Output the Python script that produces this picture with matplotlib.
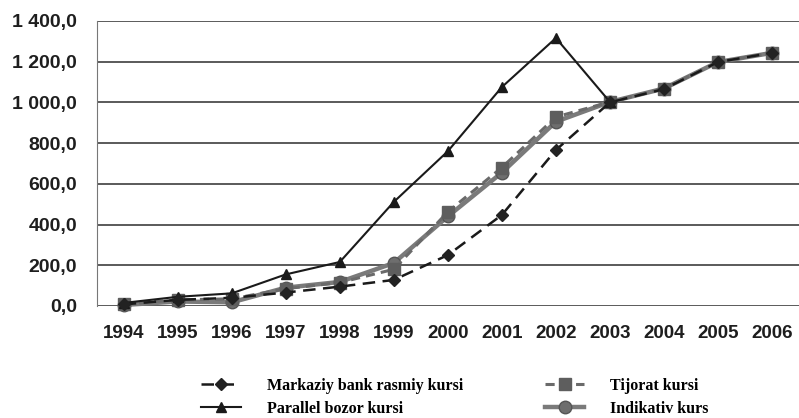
import matplotlib
matplotlib.use('Agg')
import matplotlib.pyplot as plt
import numpy as np

years = ['1994', '1995', '1996', '1997', '1998', '1999', '2000',
         '2001', '2002', '2003', '2004', '2005', '2006']
markaziy = [8, 30, 40, 66, 95, 128, 250, 447, 766, 1000, 1065, 1198, 1243]
parallel = [15, 45, 62, 155, 216, 511, 760, 1075, 1316, 1002]
tijorat = [10, 30, 35, 85, 115, 180, 462, 680, 928, 1002, 1068, 1198, 1243]
indikativ = [5, 22, 18, 90, 118, 211, 440, 655, 905, 1002, 1068, 1198, 1243]
yticks = [0, 200, 400, 600, 800, 1000, 1200, 1400]

def fmt(v):
    s = '{:,.1f}'.format(v)
    return s.replace(',', ' ').replace('.', ',')

fig = plt.figure(figsize=(7.99, 4.18), dpi=100)
ax = fig.add_axes([0.121, 0.268, 0.879, 0.682])

x = np.arange(len(years))
ax.plot(x, indikativ, color='#7a7a7a', lw=3.2, marker='o', ms=9,
        mfc='#6e6e6e', mec='#555555', label='Indikativ kurs', zorder=3, clip_on=False)
ax.plot(x, tijorat, color='#6a6a6a', lw=2.2, ls=(0, (3, 2)), marker='s', ms=8,
        mfc='#5e5e5e', mec='#5e5e5e', label='Tijorat kursi', zorder=4, clip_on=False)
ax.plot(x[:len(parallel)], parallel, color='#1a1a1a', lw=1.5, marker='^', ms=7,
        mfc='#1a1a1a', mec='#1a1a1a', label='Parallel bozor kursi', zorder=5, clip_on=False)
ax.plot(x, markaziy, color='#1a1a1a', lw=1.8, ls=(0, (5, 3)), marker='D', ms=6,
        mfc='#222222', mec='#222222', label='Markaziy bank rasmiy kursi', zorder=6, clip_on=False)

ax.set_xlim(-0.5, len(years) - 0.5)
ax.set_ylim(0, 1400)
ax.set_yticks(yticks)
ax.set_yticklabels([fmt(v) for v in yticks])
ax.set_xticks(x)
ax.set_xticklabels(years)
ax.yaxis.grid(True, color='#5a5a5a', lw=1.4)
ax.set_axisbelow(True)
for s in ['top', 'right', 'bottom']:
    ax.spines[s].set_visible(False)
ax.spines['left'].set_color('#777777')
ax.tick_params(axis='both', length=0)
ax.tick_params(axis='y', pad=14)
ax.tick_params(axis='x', pad=14)
for t in ax.get_yticklabels():
    t.set_fontfamily('Liberation Sans')
    t.set_fontweight('bold')
    t.set_fontsize(14)
    t.set_color('#1e1e1e')
for t in ax.get_xticklabels():
    t.set_fontfamily('Liberation Sans')
    t.set_fontweight('bold')
    t.set_fontsize(13.5)
    t.set_color('#1e1e1e')

h, l = ax.get_legend_handles_labels()
order = [3, 2, 1, 0]
leg = fig.legend([h[i] for i in order], [l[i] for i in order], ncol=2,
                 loc='upper left', bbox_to_anchor=(0.244, 0.112), frameon=False,
                 prop={'family': 'Liberation Serif', 'weight': 'bold', 'size': 11.5},
                 handlelength=2.5, handletextpad=1.6, columnspacing=5.1,
                 labelspacing=0.45, borderaxespad=0)

fig.savefig('out.png', dpi=100)
